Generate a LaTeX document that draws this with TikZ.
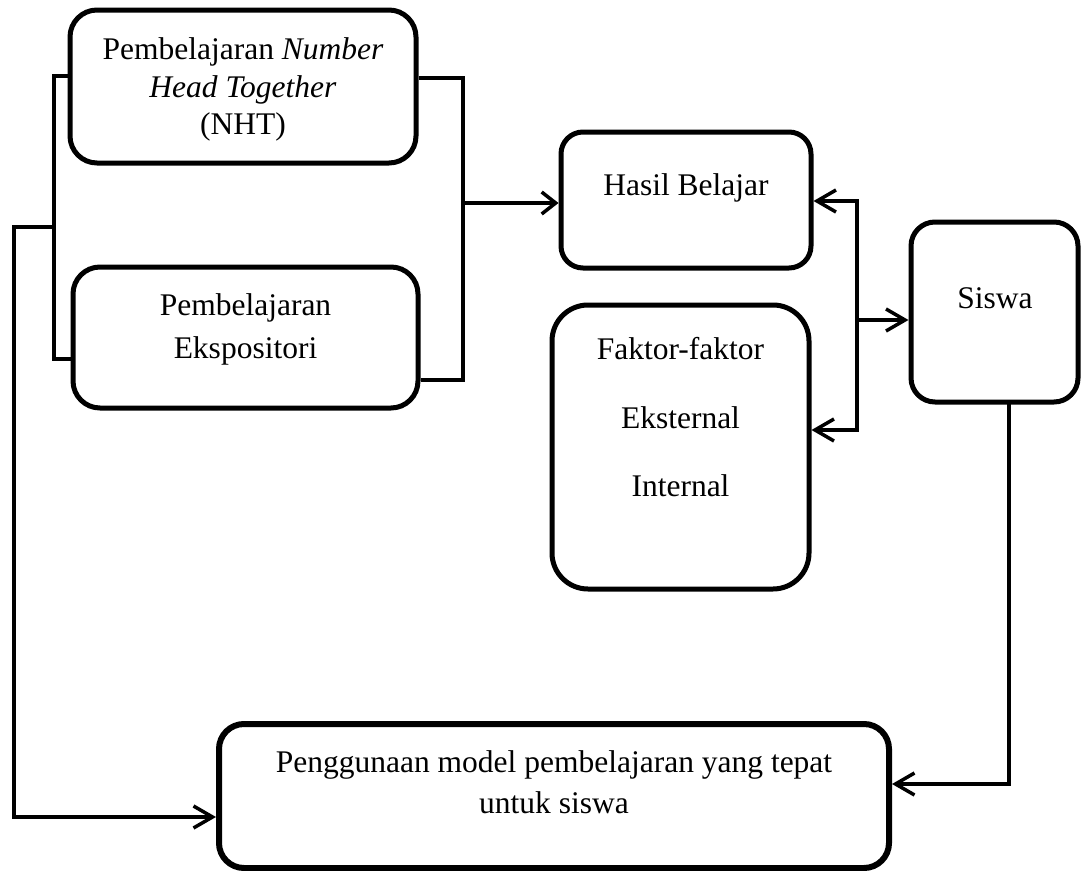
\documentclass[tikz,border=0pt]{standalone}
\usepackage{fontspec}
\setmainfont{Liberation Serif}
\usetikzlibrary{arrows.meta}
\begin{document}
\begin{tikzpicture}[x=1pt,y=-1pt,
  bx/.style={draw, line width=5pt, inner sep=0pt},
  txt/.style={anchor=base, inner sep=0pt, font=\fontsize{31.5}{38}\selectfont},
  conn/.style={line width=3.5pt, line join=miter},
  arr/.style={conn, -{Straight Barb[length=19pt,width=22pt]}},
  arrs/.style={conn, -{Straight Barb[length=14pt,width=22pt]}},
  arrboth/.style={conn, {Straight Barb[length=19pt,width=22pt]}-{Straight Barb[length=19pt,width=22pt]}}]
\useasboundingbox (0,0) rectangle (1084,870);
\fill[white] (0,0) rectangle (1084,870);
% boxes
\node[bx, rounded corners=27pt, minimum width=346pt, minimum height=153pt] (nht) at (243,86.5) {};
\node[bx, rounded corners=27pt, minimum width=345pt, minimum height=141pt] (eks) at (245.5,337.5) {};
\node[bx, rounded corners=22pt, minimum width=250pt, minimum height=136pt] (hasil) at (686,200) {};
\node[bx, rounded corners=36pt, minimum width=257pt, minimum height=284pt] (faktor) at (680.5,447) {};
\node[bx, rounded corners=24pt, minimum width=167pt, minimum height=180pt] (siswa) at (994.5,312) {};
\node[bx, line width=6pt, rounded corners=25pt, minimum width=670pt, minimum height=144pt] (guna) at (554,796) {};
% texts
\node[txt] (t1) at (243,59) {Pembelajaran \textit{Number}};
\node[txt] (t2) at (243,97) {\textit{Head Together}};
\node[txt] (t3) at (243,134) {(NHT)};
\node[txt] (t4) at (245.5,315) {Pembelajaran};
\node[txt] (t5) at (245.5,358) {Ekspositori};
\node[txt] (t6) at (686,195) {Hasil Belajar};
\node[txt] (t7) at (680.5,359) {Faktor-faktor};
\node[txt] (t8) at (680.5,428) {Eksternal};
\node[txt] (t9) at (680.5,496) {Internal};
\node[txt] (t10) at (995,308) {Siswa};
\node[txt] (t11) at (554,772) {Penggunaan model pembelajaran yang tepat};
\node[txt] (t12) at (554,813) {untuk siswa};
% coordinates
\coordinate (lbT) at (54,76);
\coordinate (lbB) at (54,359);
\coordinate (lbM) at (54,227);
\coordinate (fbT) at (14,227);
\coordinate (fbB) at (14,817);
\coordinate (rbT) at (463,78);
\coordinate (rbB) at (463,380);
\coordinate (rbM) at (463,203);
\coordinate (vT) at (857,201);
\coordinate (vB) at (857,430);
\coordinate (vM) at (857,320);
\coordinate (sB) at (1009,402);
\coordinate (sC) at (1009,784);
% connectors
\draw[conn] (nht.west |- lbT) -- (lbT) -- (lbB) -- (eks.west |- lbB);
\draw[arr] (lbM) -- (fbT) -- (fbB) -- (guna.west |- fbB);
\draw[conn] (nht.east |- rbT) -- (rbT) -- (rbB) -- (eks.east |- rbB);
\draw[arrs] (rbM) -- (hasil.west |- rbM);
\draw[arrboth] (hasil.east |- vT) -- (vT) -- (vB) -- (faktor.east |- vB);
\draw[arr] (vM) -- (siswa.west |- vM);
\draw[arr] (sB) -- (sC) -- (guna.east |- sC);
\end{tikzpicture}
\end{document}
